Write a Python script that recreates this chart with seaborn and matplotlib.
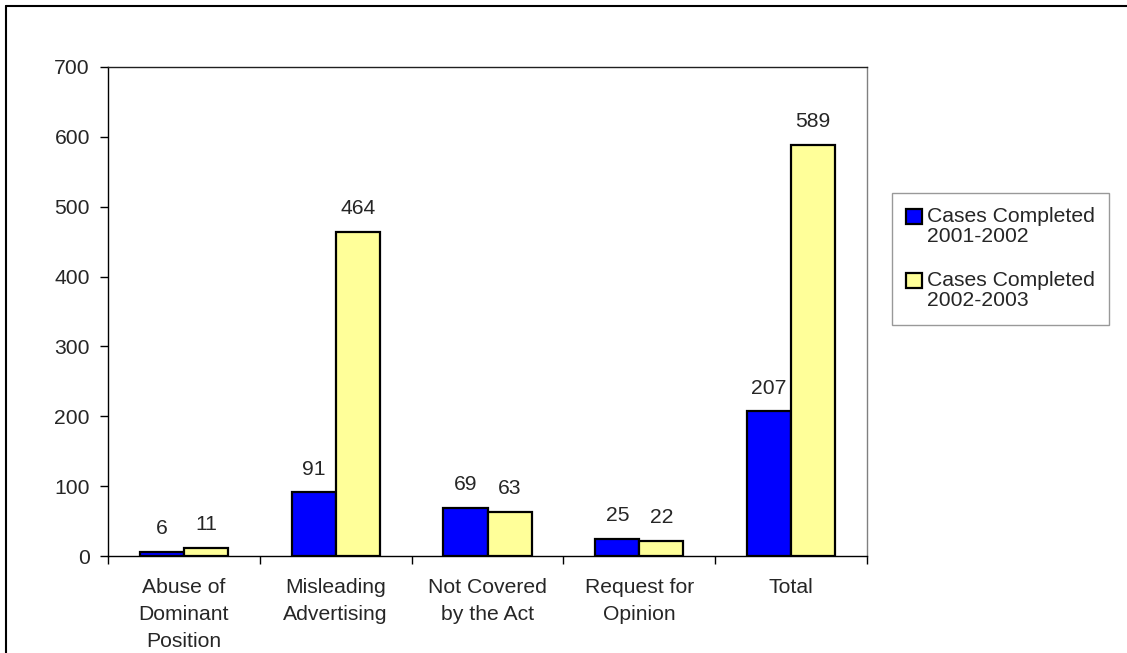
import matplotlib
matplotlib.use("Agg")
import matplotlib.pyplot as plt
import matplotlib.lines as mlines
import matplotlib.patches as mpatches
from matplotlib.legend_handler import HandlerPatch
import pandas as pd
import seaborn as sns

categories = ["Abuse of\nDominant\nPosition", "Misleading\nAdvertising",
              "Not Covered\nby the Act", "Request for\nOpinion", "Total"]
series_names = ["Cases Completed\n2001-2002", "Cases Completed\n2002-2003"]
cases_2001_2002 = [6, 91, 69, 25, 207]
cases_2002_2003 = [11, 464, 63, 22, 589]
bar_colors = ["#0000FF", "#FFFF99"]

sns.set_style("white")
plt.rcParams['font.family'] = ['Liberation Sans', 'DejaVu Sans']

W, H = 1127, 653
fig = plt.figure(figsize=(W / 100, H / 100), dpi=100)
ax = fig.add_axes([108 / W, (H - 556) / H, (867 - 108) / W, (556 - 67) / H])

df = pd.DataFrame({
    "category": categories * 2,
    "series": [series_names[0]] * 5 + [series_names[1]] * 5,
    "cases": cases_2001_2002 + cases_2002_2003,
})

sns.barplot(data=df, x="category", y="cases", hue="series", palette=bar_colors,
            width=0.58, edgecolor="black", linewidth=1.6, saturation=1,
            errorbar=None, ax=ax)

for cont in ax.containers:
    ax.bar_label(cont, padding=10, fontsize=15.2)

ax.set_xlim(-0.5, 4.5)
ax.set_ylim(0, 700)
ax.set_yticks(range(0, 701, 100))
ax.set_xlabel("")
ax.set_ylabel("")

# category labels centred, tick marks between categories
ax.tick_params(axis="x", which="major", length=0, pad=16, labelsize=15.2)
ax.set_xticks([i - 0.5 for i in range(6)], minor=True)
ax.tick_params(axis="x", which="minor", length=6, width=1, color="black", direction="out", bottom=True)
for lbl in ax.get_xticklabels():
    lbl.set_linespacing(1.52)
ax.tick_params(axis="y", length=6, width=1, color="black", direction="out", left=True, pad=7, labelsize=15.2)

for side in ["left", "bottom"]:
    ax.spines[side].set_color("black")
    ax.spines[side].set_linewidth(1)
ax.spines["top"].set_color("#202020")
ax.spines["right"].set_color("#808080")
ax.spines["top"].set_linewidth(1)
ax.spines["right"].set_linewidth(1)

ax.get_legend().remove()


def top_square(legend, orig_handle, xdescent, ydescent, width, height, fontsize):
    # legend key sits beside the first text line, as in the original
    return mpatches.Rectangle((-xdescent, -ydescent + 0.5 * fontsize), width, height)


handles = [c.patches[0] for c in ax.containers]
leg = fig.legend(handles, series_names,
                 loc="upper left", bbox_to_anchor=(892 / W, 1 - 193 / H),
                 fontsize=15.2, frameon=True, fancybox=False, edgecolor="#808080",
                 handlelength=0.72, handleheight=0.72, handletextpad=0.25,
                 labelspacing=1.2, borderpad=0.68, borderaxespad=0,
                 handler_map={mpatches.Rectangle: HandlerPatch(patch_func=top_square)})
leg.get_frame().set_linewidth(1)
for t in leg.get_texts():
    t.set_linespacing(1.05)

# outer chart border (only top and left visible in the crop)
fig.add_artist(mlines.Line2D([6 / W, 1], [1 - 6 / H, 1 - 6 / H], color="black", linewidth=1.5))
fig.add_artist(mlines.Line2D([6 / W, 6 / W], [0, 1 - 6 / H], color="black", linewidth=1.5))

fig.savefig("out.png", dpi=100)
